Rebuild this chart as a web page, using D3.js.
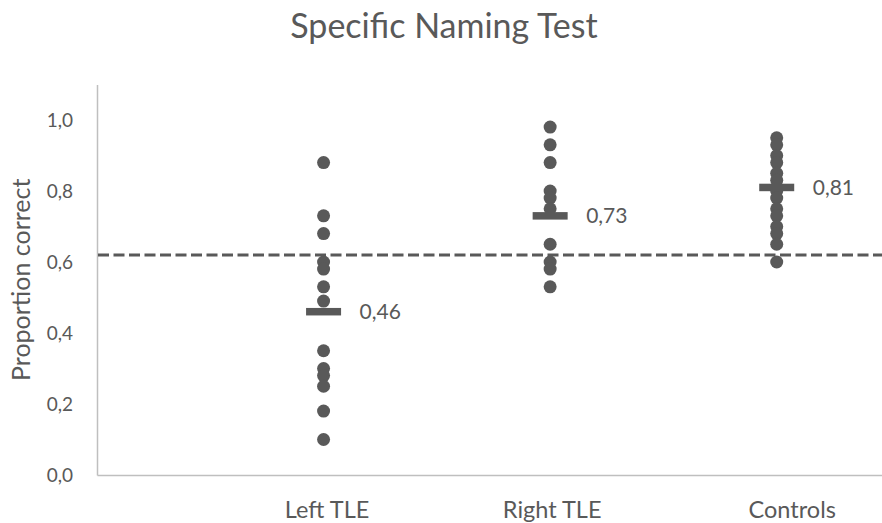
<!DOCTYPE html>
<html>
<head>
<meta charset="utf-8">
<script src="https://cdn.jsdelivr.net/npm/d3@7"></script>
<style>
  html, body { margin: 0; padding: 0; background: #fff; }
  svg { display: block; font-family: Lato, "Open Sans", sans-serif; }
</style>
</head>
<body>
<svg id="chart" width="882" height="523"></svg>
<script>
// ---- data ----
const categories = ["Left TLE", "Right TLE", "Controls"];
const categoryPositions = [1, 2, 3];
const leftTLE = [0.88, 0.73, 0.68, 0.60, 0.58, 0.53, 0.49, 0.35, 0.30, 0.28, 0.25, 0.18, 0.10];
const rightTLE = [0.98, 0.93, 0.88, 0.80, 0.78, 0.75, 0.65, 0.60, 0.58, 0.53];
const controls = [0.95, 0.93, 0.90, 0.88, 0.85, 0.83, 0.80, 0.78, 0.75, 0.73, 0.70, 0.68, 0.65, 0.60];
const groupMeans = [0.46, 0.73, 0.81];
const meanLabels = ["0,46", "0,73", "0,81"];
const threshold = 0.62;
const yTicks = [0, 0.2, 0.4, 0.6, 0.8, 1.0];
const yTickLabels = ["0,0", "0,2", "0,4", "0,6", "0,8", "1,0"];
const title = "Specific Naming Test";
const yTitle = "Proportion correct";

const groups = [leftTLE, rightTLE, controls];

// ---- layout ----
const W = 882, H = 523;
const margin = { left: 97, top: 84.5, bottom: 48 };
const textColor = "#595959";
const markColor = "#595959";
const axisColor = "#bfbfbf";
const categoryLabelShift = [3, 1.5, 15]; // small horizontal label nudges (px)

const svg = d3.select("#chart");

const x = d3.scaleLinear().domain([0, 3.5]).range([margin.left, 890]);
const y = d3.scaleLinear().domain([0, 1.1]).range([H - margin.bottom, margin.top]);

// title
svg.append("text")
  .attr("x", 444).attr("y", 38)
  .attr("text-anchor", "middle")
  .attr("font-size", 34)
  .attr("fill", textColor)
  .text(title);

// y axis title
svg.append("text")
  .attr("transform", `translate(30, ${(y(0) + y(1.1)) / 2}) rotate(-90)`)
  .attr("text-anchor", "middle")
  .attr("font-size", 25)
  .attr("fill", textColor)
  .text(yTitle);

// y axis
const yAxis = d3.axisLeft(y).tickValues(yTicks).tickSize(0).tickPadding(24)
  .tickFormat((d, i) => yTickLabels[i]);
const gy = svg.append("g").attr("transform", `translate(${margin.left},0)`).call(yAxis);
gy.select(".domain").attr("stroke", axisColor).attr("stroke-width", 1.5);
gy.selectAll("text").attr("fill", textColor).attr("font-size", 19).attr("font-family", "Lato, sans-serif");

// x axis
const xAxis = d3.axisBottom(x).tickValues(categoryPositions).tickSize(0).tickPadding(26)
  .tickFormat((d, i) => categories[i]);
const gx = svg.append("g").attr("transform", `translate(0,${y(0)})`).call(xAxis);
gx.select(".domain").attr("stroke", axisColor).attr("stroke-width", 1.5);
gx.selectAll("text")
  .attr("fill", textColor).attr("font-size", 23.5).attr("font-family", "Lato, sans-serif")
  .attr("dx", (d, i) => categoryLabelShift[i]);

// threshold dashed line
svg.append("line")
  .attr("x1", x(0) + 1).attr("x2", x(3.5))
  .attr("y1", y(threshold)).attr("y2", y(threshold))
  .attr("stroke", markColor)
  .attr("stroke-width", 3)
  .attr("stroke-dasharray", "11,4.5");

// dots
groups.forEach((vals, gi) => {
  svg.append("g").selectAll("circle")
    .data(vals)
    .join("circle")
    .attr("cx", x(categoryPositions[gi]))
    .attr("cy", d => y(d))
    .attr("r", 6.5)
    .attr("fill", markColor);
});

// mean bars
const barW = 35, barH = 7.5;
svg.append("g").selectAll("rect")
  .data(groupMeans)
  .join("rect")
  .attr("x", (d, i) => x(categoryPositions[i]) - barW / 2)
  .attr("y", d => y(d) - barH / 2)
  .attr("width", barW)
  .attr("height", barH)
  .attr("fill", markColor);

// mean labels
svg.append("g").selectAll("text")
  .data(groupMeans)
  .join("text")
  .attr("x", (d, i) => x(categoryPositions[i]) + 36)
  .attr("y", d => y(d))
  .attr("dy", "0.35em")
  .attr("font-size", 21)
  .attr("fill", textColor)
  .text((d, i) => meanLabels[i]);
</script>
</body>
</html>
